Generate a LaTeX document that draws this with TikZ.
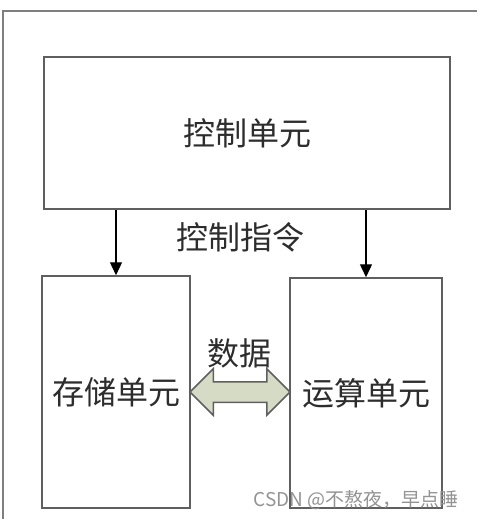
\documentclass[tikz,border=0pt]{standalone}
\usepackage{fontspec}
\newfontfamily\cjk{Noto Sans CJK SC}
\usepackage{tikz}
\usetikzlibrary{arrows.meta}
\usetikzlibrary{shapes.arrows}
\usetikzlibrary{positioning}
\definecolor{framegray}{RGB}{95,95,95}
\definecolor{textgray}{RGB}{45,45,45}
\definecolor{datafill}{RGB}{214,219,198}
\tikzstyle{unit}=[rectangle,draw=framegray,fill=white,line width=1.5pt,inner sep=0pt,font=\cjk\fontsize{32}{32}\selectfont,text=textgray]
\tikzstyle{tag}=[inner sep=0pt,font=\cjk\fontsize{32}{32}\selectfont,text=textgray]
\tikzstyle{cmd}=[-{Triangle[length=13pt,width=12pt]},line width=1.3pt,draw=black]
\tikzstyle{bus}=[double arrow,draw=framegray,fill=datafill,line width=1.5pt,inner xsep=0pt,inner ysep=9.5pt,minimum width=45pt,minimum height=100pt,double arrow head extend=13pt]
\tikzstyle{watermark}=[inner sep=0pt,font=\cjk\fontsize{19}{19}\selectfont,text=gray!85]

\begin{document}
\begin{tikzpicture}[x=1pt,y=-1pt]
          \useasboundingbox (0,0) rectangle (477,519);
          \draw[framegray!80,line width=1.5pt] (3,519) -- (3,11) -- (477,11);
          \node[unit,minimum width=406pt,minimum height=152pt] at (247,133) (ctrl) {控制单元};
          \node[unit,minimum width=148pt,minimum height=232pt] at (116,392) (store) {存储单元};
          \node[unit,minimum width=152pt,minimum height=230pt] at (366,393) (calc) {运算单元};
          \node[tag] at (240,237) (cmdtext) {控制指令};
          \draw[cmd] (ctrl.south -| store.north) -- (store.north);
          \draw[cmd] (ctrl.south -| calc.north) -- (calc.north);
          \node[bus] at (240,392) (data) {};
          \node[tag] at (239,353) (datatext) {数据};
          \node[watermark] at (356,500) (wm) {CSDN @不熬夜，早点睡};
        \end{tikzpicture}
\end{document}
